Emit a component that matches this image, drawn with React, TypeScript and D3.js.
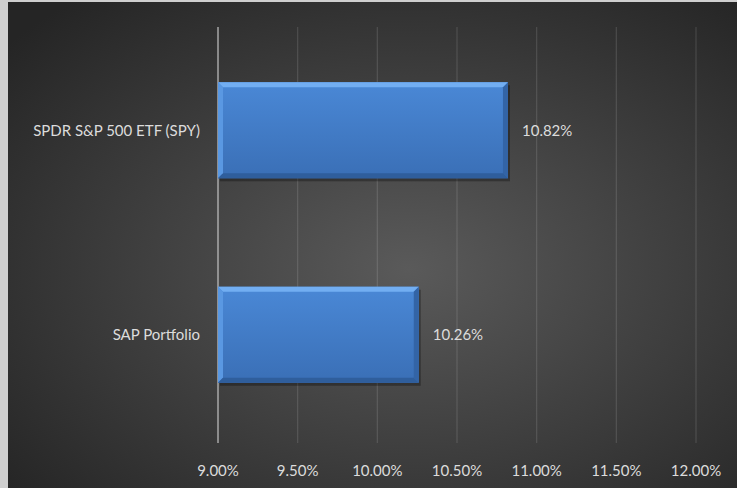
import React, { useEffect, useRef } from 'react';
import * as d3 from 'd3';

const categories = ['SPDR S&P 500 ETF (SPY)', 'SAP Portfolio'];
const values = [10.82, 10.26];
const tickValues = [9.0, 9.5, 10.0, 10.5, 11.0, 11.5, 12.0];

const App = () => {
    const svgRef = useRef<SVGSVGElement | null>(null);
    const width = 737;
    const height = 488;

    useEffect(() => {
        if (!svgRef.current) return;
        const svg = d3.select(svgRef.current);
        svg.selectAll('*').remove();

        const defs = svg.append('defs');
        const bg = defs.append('radialGradient').attr('id', 'bg')
            .attr('cx', '55%').attr('cy', '55%').attr('r', '72%');
        bg.append('stop').attr('offset', '0%').attr('stop-color', '#5a5a5a');
        bg.append('stop').attr('offset', '100%').attr('stop-color', '#252525');

        const barGrad = defs.append('linearGradient').attr('id', 'bar')
            .attr('x1', 0).attr('y1', 0).attr('x2', 0).attr('y2', 1);
        barGrad.append('stop').attr('offset', '0%').attr('stop-color', '#4a88d6');
        barGrad.append('stop').attr('offset', '100%').attr('stop-color', '#3a6fb6');

        // light frame on the left/top, then the dark chart area
        svg.append('rect').attr('width', width).attr('height', height).attr('fill', '#cfcfcf');
        svg.append('rect').attr('x', 8).attr('y', 2).attr('width', width - 8).attr('height', height - 2)
            .attr('fill', 'url(#bg)');

        const margin = { top: 27, bottom: 45, left: 218, right: 41 };
        const xScale = d3.scaleLinear().domain([9, 12]).range([margin.left, width - margin.right]);
        const yScale = d3.scaleBand<string>().domain(categories)
            .range([27, 438]).paddingInner(0.53).paddingOuter(0.27);

        const g = svg.append('g');

        // gridlines
        g.selectAll('line.grid')
            .data(tickValues)
            .enter()
            .append('line')
            .attr('x1', (d) => xScale(d))
            .attr('x2', (d) => xScale(d))
            .attr('y1', margin.top)
            .attr('y2', height - margin.bottom)
            .attr('stroke', (d) => (d === 9 ? '#c4c4c4' : 'rgba(255,255,255,0.13)'))
            .attr('stroke-width', 1.2);

        // tick labels
        g.selectAll('text.tick')
            .data(tickValues)
            .enter()
            .append('text')
            .attr('x', (d) => xScale(d))
            .attr('y', 476)
            .attr('text-anchor', 'middle')
            .attr('fill', '#dcdcdc')
            .attr('font-family', 'Lato, sans-serif')
            .attr('font-size', 15)
            .text((d) => d3.format('.2f')(d) + '%');

        const bev = 5;
        categories.forEach((c, i) => {
            const x0 = xScale(9);
            const x1 = xScale(values[i]);
            const y0 = yScale(c)!;
            const y1 = y0 + yScale.bandwidth();
            const bar = g.append('g');
            bar.append('rect').attr('x', x0 + 2).attr('y', y0 + 3).attr('width', x1 - x0).attr('height', y1 - y0)
                .attr('fill', 'rgba(0,0,0,0.3)');
            bar.append('rect').attr('x', x0).attr('y', y0).attr('width', x1 - x0).attr('height', y1 - y0)
                .attr('fill', 'url(#bar)');
            // bevel edges
            bar.append('polygon')
                .attr('points', `${x0},${y0} ${x1},${y0} ${x1 - bev},${y0 + bev} ${x0 + bev},${y0 + bev}`)
                .attr('fill', '#72aef2');
            bar.append('polygon')
                .attr('points', `${x0},${y0} ${x0 + bev},${y0 + bev} ${x0 + bev},${y1 - bev} ${x0},${y1}`)
                .attr('fill', '#5a98e2');
            bar.append('polygon')
                .attr('points', `${x1},${y0} ${x1},${y1} ${x1 - bev},${y1 - bev} ${x1 - bev},${y0 + bev}`)
                .attr('fill', '#3364a6');
            bar.append('polygon')
                .attr('points', `${x0},${y1} ${x1},${y1} ${x1 - bev},${y1 - bev} ${x0 + bev},${y1 - bev}`)
                .attr('fill', '#2f5e9c');

            g.append('text')
                .attr('x', 200)
                .attr('y', (y0 + y1) / 2)
                .attr('dy', '0.35em')
                .attr('text-anchor', 'end')
                .attr('fill', '#dcdcdc')
                .attr('font-family', 'Lato, sans-serif')
                .attr('font-size', 15)
                .text(c);

            g.append('text')
                .attr('x', x1 + 14)
                .attr('y', (y0 + y1) / 2)
                .attr('dy', '0.35em')
                .attr('fill', '#dcdcdc')
                .attr('font-family', 'Lato, sans-serif')
                .attr('font-size', 15)
                .text(d3.format('.2f')(values[i]) + '%');
        });
    }, []);

    return (
        <svg ref={svgRef} width={width} height={height}
            style={{ position: 'absolute', left: 0, top: 0, display: 'block' }}></svg>
    );
};

export default App;
